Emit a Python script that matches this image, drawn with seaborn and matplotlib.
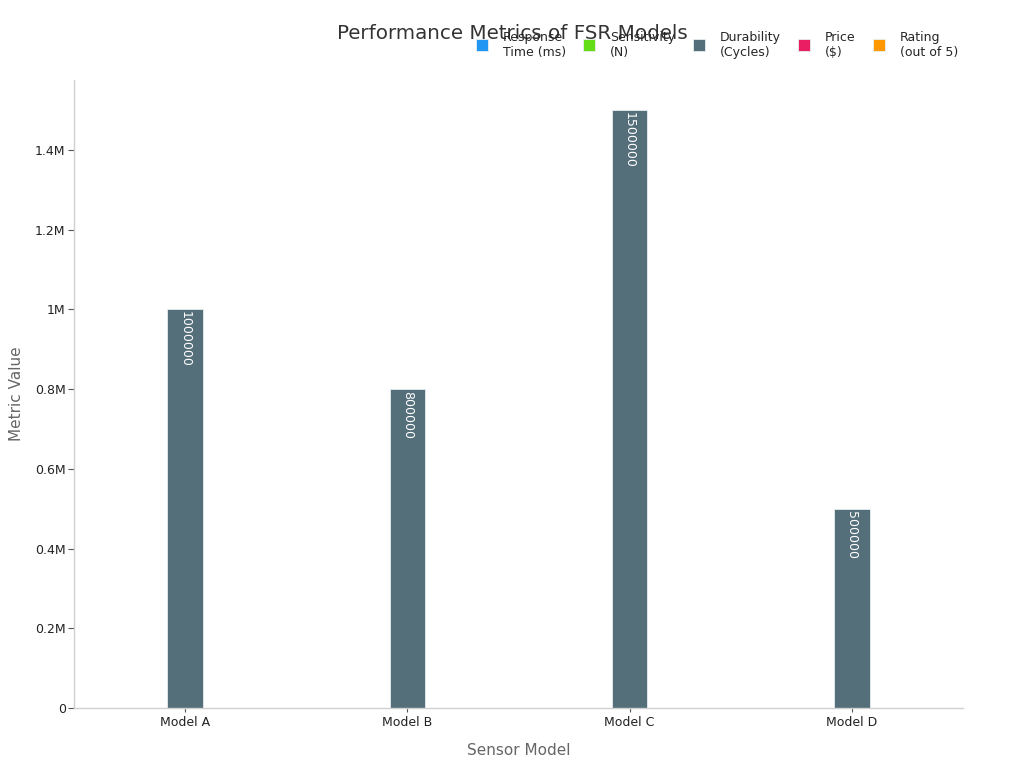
import matplotlib
matplotlib.use("Agg")
import matplotlib.pyplot as plt
import matplotlib.ticker as mticker
import seaborn as sns
import pandas as pd

models = ["Model A", "Model B", "Model C", "Model D"]
series_names = ["Response\nTime (ms)", "Sensitivity\n(N)", "Durability\n(Cycles)", "Price\n($)", "Rating\n(out of 5)"]
response_time = [5, 8, 3, 10]
sensitivity = [100, 50, 200, 20]
durability = [1000000, 800000, 1500000, 500000]
price = [25, 15, 40, 10]
rating = [4.5, 4.0, 4.8, 3.5]
colors = ["#2196F3", "#64DD17", "#546E7A", "#E91E63", "#FF9800"]

values = [response_time, sensitivity, durability, price, rating]
rows = []
for name, vals in zip(series_names, values):
    for m, v in zip(models, vals):
        rows.append({"Model": m, "Metric": name, "Value": v})
df = pd.DataFrame(rows)

sns.set_theme(style="white")
plt.rcParams["font.family"] = ["DejaVu Sans"]

fig = plt.figure(figsize=(10.24, 7.68), dpi=100)
ax = fig.add_axes([74/1024, 60/768, (963-74)/1024, (708-80)/768])

sns.barplot(data=df, x="Model", y="Value", hue="Metric", palette=colors,
            width=0.8, ax=ax, legend=True, saturation=1, edgecolor="#e8eef0", linewidth=0.6)

ymax = max(durability) * 1.05
ax.set_ylim(0, ymax)
for cont in ax.containers:
    for bar in cont:
        h = bar.get_height()
        if h > ymax * 0.05:
            ax.text(bar.get_x() + bar.get_width() / 2, h - ymax * 0.003, f"{int(h)}",
                    rotation=270, ha="center", va="top", color="white", fontsize=9)

def fmt(v, pos):
    if v == 0:
        return "0"
    s = f"{v/1e6:.1f}".rstrip("0").rstrip(".")
    return s + "M"
ax.yaxis.set_major_formatter(mticker.FuncFormatter(fmt))
ax.set_yticks([0, 200000, 400000, 600000, 800000, 1000000, 1200000, 1400000])

for s in ["top", "right"]:
    ax.spines[s].set_visible(False)
for s in ["left", "bottom"]:
    ax.spines[s].set_color("#d0d0d0")
    ax.spines[s].set_linewidth(1)
ax.tick_params(axis="both", which="both", bottom=True, left=True, length=4, width=0.8,
               color="#555555", labelsize=9, labelcolor="#222222", pad=2)
ax.tick_params(axis="x", length=3, pad=3)
ax.set_xlabel("Sensor Model", fontsize=11, color="#666666", labelpad=10)
ax.set_ylabel("Metric Value", fontsize=11, color="#666666", labelpad=8)

handles, labels = ax.get_legend_handles_labels()
ax.get_legend().remove()
fig.legend(handles, labels, loc="upper right", bbox_to_anchor=(0.936, 0.96), ncol=5,
           frameon=False, fontsize=9, handlelength=0.95, handleheight=1.1,
           columnspacing=1.4, handletextpad=1.2, borderaxespad=0, borderpad=0)

fig.text(0.5, 0.957, "Performance Metrics of FSR Models", ha="center", va="center",
         fontsize=14.3, color="#333333")

fig.savefig("out.png", dpi=100)
